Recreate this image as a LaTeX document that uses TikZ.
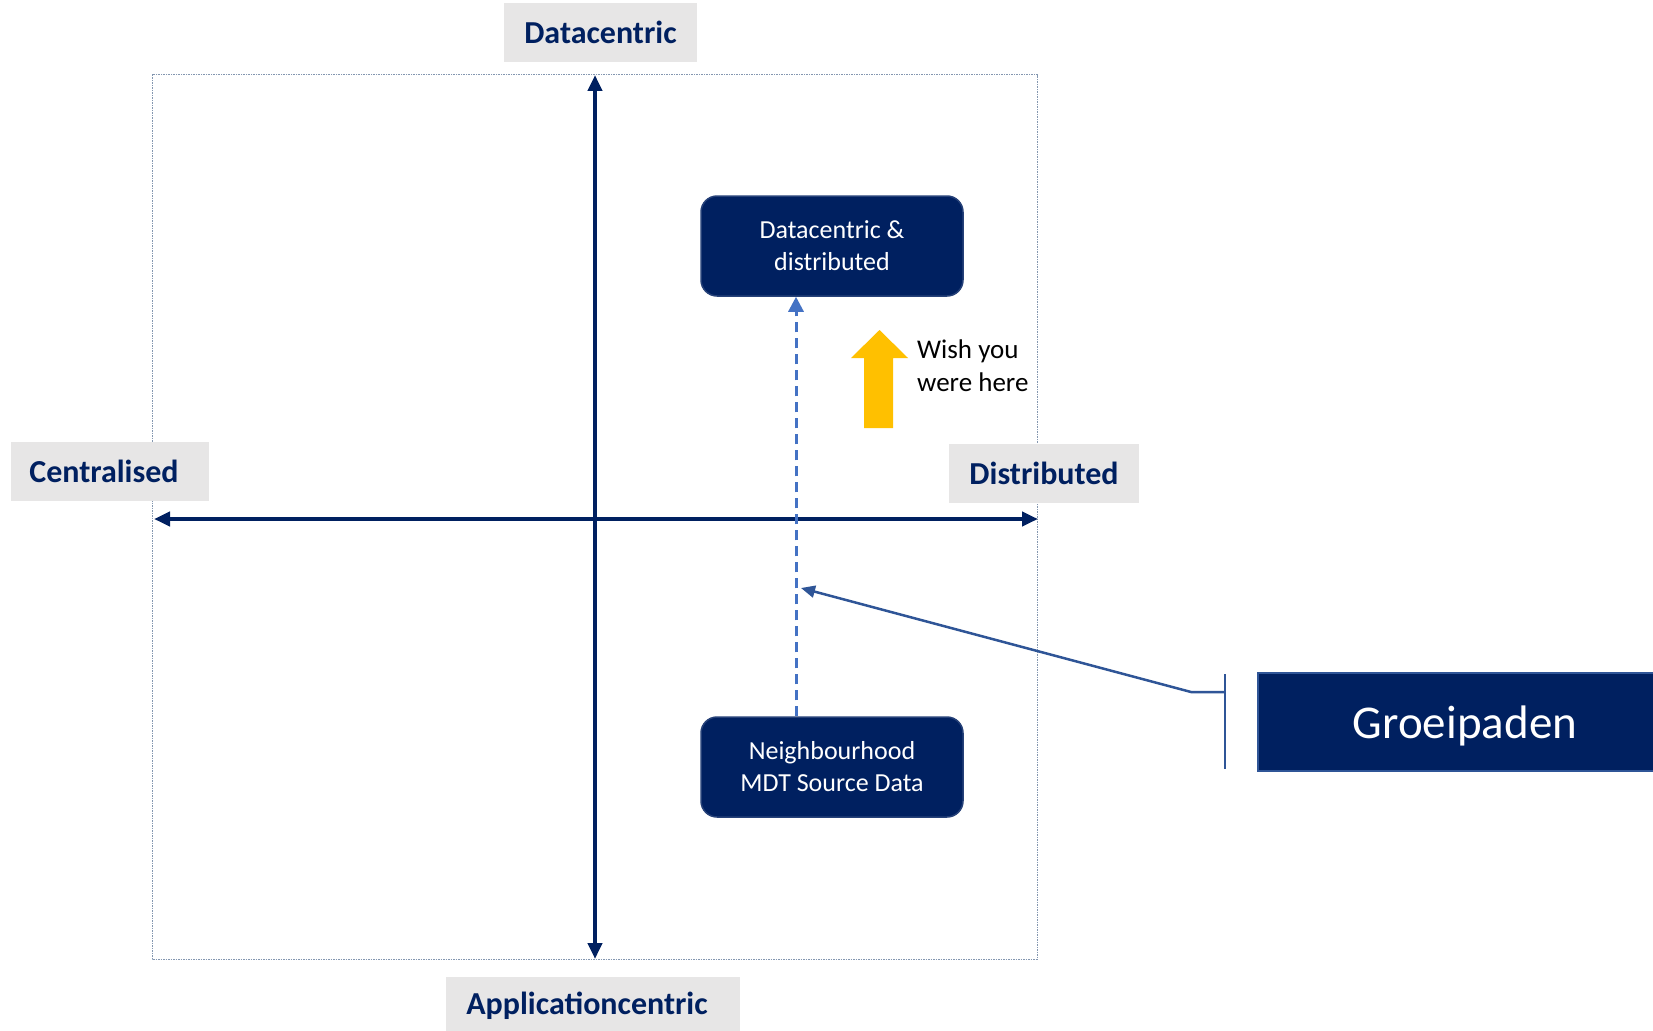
\documentclass[tikz,border=0pt]{standalone}
\usepackage{fontspec}
\setmainfont{Carlito}
\usetikzlibrary{arrows.meta}
\definecolor{navy}{HTML}{002060}
\definecolor{lblgray}{HTML}{E7E6E6}
\definecolor{dashblue}{HTML}{4472C4}
\definecolor{linkblue}{HTML}{2F5597}
\definecolor{framegray}{HTML}{8497B0}
\definecolor{gold}{HTML}{FFC000}
\begin{document}
\begin{tikzpicture}[x=1pt,y=-1pt,
 axislabel/.style={fill=lblgray, text=navy, font=\fontsize{32}{38}\selectfont\bfseries, inner sep=0pt, minimum height=59pt},
 quadbox/.style={fill=navy, draw=navy!85!white, line width=1.5pt, rounded corners=16pt, text=white, minimum width=262pt, minimum height=100pt, align=center, font=\fontsize{26}{32}\selectfont, inner sep=0pt},
 axisline/.style={navy, line width=4pt, {Triangle[length=16pt,width=14pt]}-{Triangle[length=16pt,width=14pt]}},
 frameline/.style={framegray, line width=1pt, dash pattern=on 1.5pt off 1pt},
 pathline/.style={dashblue, line width=3pt, dash pattern=on 10pt off 6pt, -{Triangle[length=15pt,width=15pt]}},
 linkline/.style={linkblue, line width=2.5pt},
 wishtext/.style={font=\fontsize{27}{33}\selectfont, align=left, inner sep=0pt, text=black},
 bigbox/.style={fill=navy, draw=linkblue, line width=2pt, minimum width=414pt, minimum height=98pt, text=white, font=\fontsize{47}{56}\selectfont, inner sep=0pt, text depth=0pt}
]
\useasboundingbox[fill=white] (0,0) rectangle (1653,1030);

% frame
\draw[frameline] (152,75) rectangle (1037,959);

% axes
\coordinate (top) at (595,75);
\coordinate (bot) at (595,959);
\coordinate (lft) at (154,519);
\coordinate (rgt) at (1038,519);
\draw[axisline] (bot) -- (top);
\draw[axisline] (lft) -- (rgt);

% axis labels
\node[axislabel, minimum width=193pt] (ldc) at (600.5,32.5) {Datacentric};
\node[axislabel, minimum width=198pt] (lce) at (110,471.5) {\hspace*{-12pt}Centralised};
\node[axislabel, minimum width=190pt] (ldi) at (1044,473) {Distributed};
\node[axislabel, minimum width=294pt] (lap) at (593,1006) {\hspace*{-12pt}Applicationcentric};

% quadrant boxes
\node[quadbox] (dd) at (832,246) {Datacentric \&\\distributed};
\node[quadbox] (nb) at (832,767) {Neighbourhood\\MDT Source Data};

% dashed growth path
\coordinate (dx) at (796,0);
\draw[pathline] (nb.north -| dx) -- (dd.south -| dx);

% yellow arrow
\fill[gold] (864,428) -- (864,358) -- (851,358) -- (879.5,330) -- (908,358) -- (893,358) -- (893,428) -- cycle;
\node[wishtext, anchor=west] (wish) at (917,366) {Wish you\\were here};

% Groeipaden callout
\node[bigbox] (gp) at (1465,722) {Groeipaden};
\coordinate (brT) at (1225,674);
\coordinate (brB) at (1225,769);
\coordinate (brM) at (1225,692);
\coordinate (elb) at (1191,692);
\coordinate (tip) at (801,588);
\draw[linkline] (brT) -- (brB);
\draw[linkline, -{Triangle[length=14pt,width=12pt]}] (brM) -- (elb) -- (tip);
\end{tikzpicture}
\end{document}
